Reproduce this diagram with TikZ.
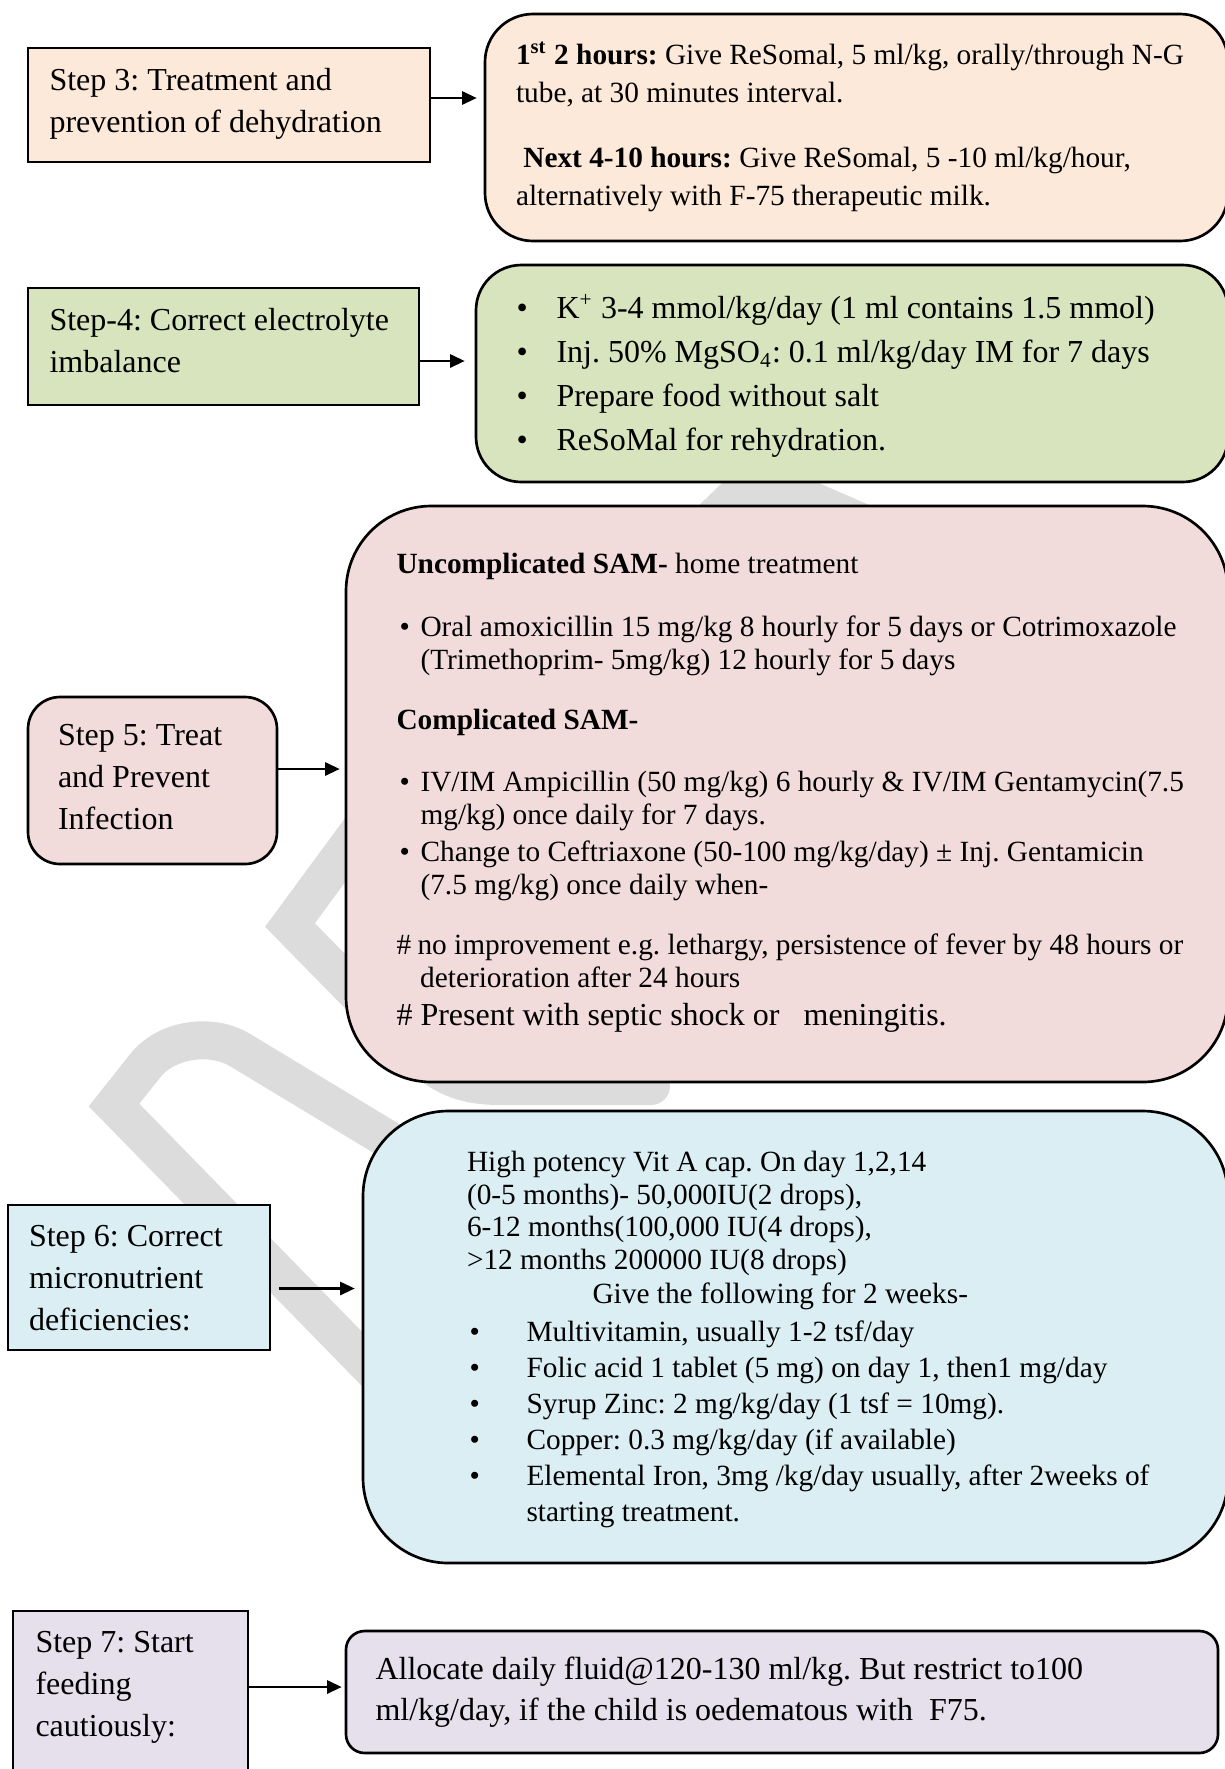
\documentclass[tikz,border=0pt]{standalone}
\usepackage{fontspec}
\setmainfont{Liberation Serif}
\usetikzlibrary{arrows.meta,calc,fit}
\frenchspacing

\definecolor{peach}{HTML}{FDE9D9}
\definecolor{sage}{HTML}{D7E4BD}
\definecolor{rose}{HTML}{F2DCDB}
\definecolor{sky}{HTML}{DBEEF4}
\definecolor{lilac}{HTML}{E5E0EC}
\definecolor{wmark}{HTML}{DCDCDC}

\begin{document}
\begin{tikzpicture}[x=0.375pt,y=-0.375pt,
  stepbox/.style={draw, line width=1pt, inner sep=0pt},
  infobox/.style={draw, line width=1pt, inner sep=0pt},
  link/.style={line width=0.8pt, -{Triangle[length=5.5pt,width=5pt]}},
  % multi-line nodes: the base anchor sits on the baseline of the last line
  txt/.style={anchor=base west, inner sep=0pt, align=left},
  fbig/.style={font=\fontsize{12}{15.75}\selectfont},
  fsmall/.style={font=\fontsize{11}{12.375}\selectfont},
  wm/.style={draw=wmark, line width=14.25pt, line cap=round, line join=miter}
]
\useasboundingbox (0,0) rectangle (1225,1769);
\fill[white] (0,0) rectangle (1225,1769);

% faint background watermark strokes
\draw[wm] (450,1449) -- (114,1105) -- (145,1066)
  .. controls (165,1040) and (210,1032) .. (240,1050) -- (346,1114) -- (440,1171);
\draw[wm] (379,804) -- (290,925) -- (390,1027)
  .. controls (430,1068) and (450,1086) .. (500,1086) -- (651,1086);
\fill[wmark] (752,454) -- (690,514) -- (890,514) -- cycle;

% step boxes (left) and detail boxes (right)
\node (s3) [stepbox, fill=peach, fit={(28,48)(430,162)}] {};
\node (r3) [infobox, fill=peach, rounded corners=18pt, fit={(485,14)(1228,241)}] {};
\node (s4) [stepbox, fill=sage, fit={(28,288)(419,405)}] {};
\node (r4) [infobox, fill=sage, rounded corners=17pt, fit={(476,265)(1228,482)}] {};
\node (s5) [stepbox, fill=rose, rounded corners=12pt, fit={(28,697)(277,864)}] {};
\node (r5) [infobox, fill=rose, rounded corners=32pt, fit={(346,506)(1228,1082)}] {};
\node (s6) [stepbox, fill=sky, fit={(8,1205)(270,1350)}] {};
\node (r6) [infobox, fill=sky, rounded corners=32pt, fit={(363,1111)(1228,1563)}] {};
\node (s7) [stepbox, fill=lilac, fit={(13,1611)(248,1800)}] {};
\node (r7) [infobox, fill=lilac, rounded corners=7pt, fit={(346,1631)(1218,1753)}] {};

% connectors
\draw[link] ($(s3.east)+(0,-7)$) -- ($(s3.east -| r3.west)+(-7,-7)$);
\draw[link] ($(s4.east)+(0,14.5)$) -- ($(s4.east -| r4.west)+(-10,14.5)$);
\draw[link] ($(s5.east)+(0,-11.5)$) -- ($(s5.east -| r5.west)+(-5,-11.5)$);
\draw[link] ($(s6.east)+(7.5,11)$) -- ($(s6.east -| r6.west)+(-7,11)$);
\draw[link] ($(s7.east)+(0,-18.5)$) -- ($(s7.east -| r7.west)+(-3,-18.5)$);

% Step 3
\node (t3) [txt, fbig] at (49,132) {Step 3: Treatment and\\prevention of dehydration};
\node (d3a) [txt, font=\fontsize{11}{14.25}\selectfont] at (515.5,102)
  {\textbf{1\textsuperscript{st} 2 hours:} Give ReSomal, 5 ml/kg, orally/through N-G\\tube, at 30 minutes interval.};
\node (d3b) [txt, font=\fontsize{11}{14.4}\selectfont] at (515.5,205.4)
  {\ \textbf{Next 4-10 hours:} Give ReSomal, 5 -10 ml/kg/hour,\\alternatively with F-75 therapeutic milk.};

% Step 4
\node (t4) [txt, fbig] at (49,372) {Step-4: Correct electrolyte\\imbalance};
\node (b4) [txt, font=\fontsize{12}{16.5}\selectfont] at (516,450.5) {•\\•\\•\\•};
\node (d4) [txt, font=\fontsize{12}{16.5}\selectfont] at (556,450.5)
  {K\textsuperscript{+} 3-4 mmol/kg/day (1 ml contains 1.5 mmol)\\
   Inj. 50\% MgSO\textsubscript{4}: 0.1 ml/kg/day IM for 7 days\\
   Prepare food without salt\\
   ReSoMal for rehydration.};

% Step 5
\node (t5) [txt, fbig] at (57.5,829.5) {Step 5: Treat\\and Prevent\\Infection};
\node (h5a) [txt, fsmall] at (396,573) {\textbf{Uncomplicated SAM-} home treatment};
\node (b5a) [txt, fsmall] at (399,636) {•};
\node (d5a) [txt, fsmall] at (420,669)
  {Oral amoxicillin 15 mg/kg 8 hourly for 5 days or Cotrimoxazole\\(Trimethoprim- 5mg/kg) 12 hourly for 5 days};
\node (h5b) [txt, fsmall] at (396,729.5) {\textbf{Complicated SAM-}};
\node (b5b) [txt, fsmall] at (399,791) {•};
\node (d5b) [txt, fsmall] at (420,824)
  {IV/IM Ampicillin (50 mg/kg) 6 hourly \& IV/IM Gentamycin(7.5\\mg/kg) once daily for 7 days.};
\node (b5c) [txt, fsmall] at (399,861.5) {•};
\node (d5c) [txt, fsmall] at (420,894.5)
  {Change to Ceftriaxone (50-100 mg/kg/day) ± Inj. Gentamicin\\(7.5 mg/kg) once daily when-};
\node (k5a) [txt, fsmall] at (396,954.5) {\#};
\node (d5d) [txt, fsmall] at (417,987.5)
  {no improvement e.g. lethargy, persistence of fever by 48 hours or\\\hspace{1pt}deterioration after 24 hours};
\node (k5b) [txt, fbig] at (396,1025) {\#};
\node (d5e) [txt, fbig] at (420,1025) {Present with septic shock or\ \ \ meningitis.};

% Step 6
\node (t6) [txt, fbig] at (28.5,1330) {Step 6: Correct\\micronutrient\\deficiencies:};
\node (d6a) [txt, font=\fontsize{11}{12.19}\selectfont] at (466.5,1269)
  {High potency Vit A cap. On day 1,2,14\\(0-5 months)- 50,000IU(2 drops),\\6-12 months(100,000 IU(4 drops),\\>12 months 200000 IU(8 drops)};
\node (g6) [txt, fsmall] at (592,1303.5) {Give the following for 2 weeks-};
\node (b6) [txt, font=\fontsize{11}{13.5}\selectfont] at (469,1485) {•\\•\\•\\•\\•};
\node (d6b) [txt, font=\fontsize{11}{13.5}\selectfont] at (526,1521)
  {Multivitamin, usually 1-2 tsf/day\\
   Folic acid 1 tablet (5 mg) on day 1, then1 mg/day\\
   Syrup Zinc: 2 mg/kg/day (1 tsf = 10mg).\\
   Copper: 0.3 mg/kg/day (if available)\\
   Elemental Iron, 3mg /kg/day usually, after 2weeks of\\
   starting treatment.};

% Step 7
\node (t7) [txt, fbig] at (35,1736) {Step 7: Start\\feeding\\cautiously:};
\node (d7) [txt, font=\fontsize{12}{15.375}\selectfont] at (375,1720)
  {Allocate daily fluid@120-130 ml/kg. But restrict to100\\ml/kg/day, if the child is oedematous with\ \ F75.};
\end{tikzpicture}
\end{document}
